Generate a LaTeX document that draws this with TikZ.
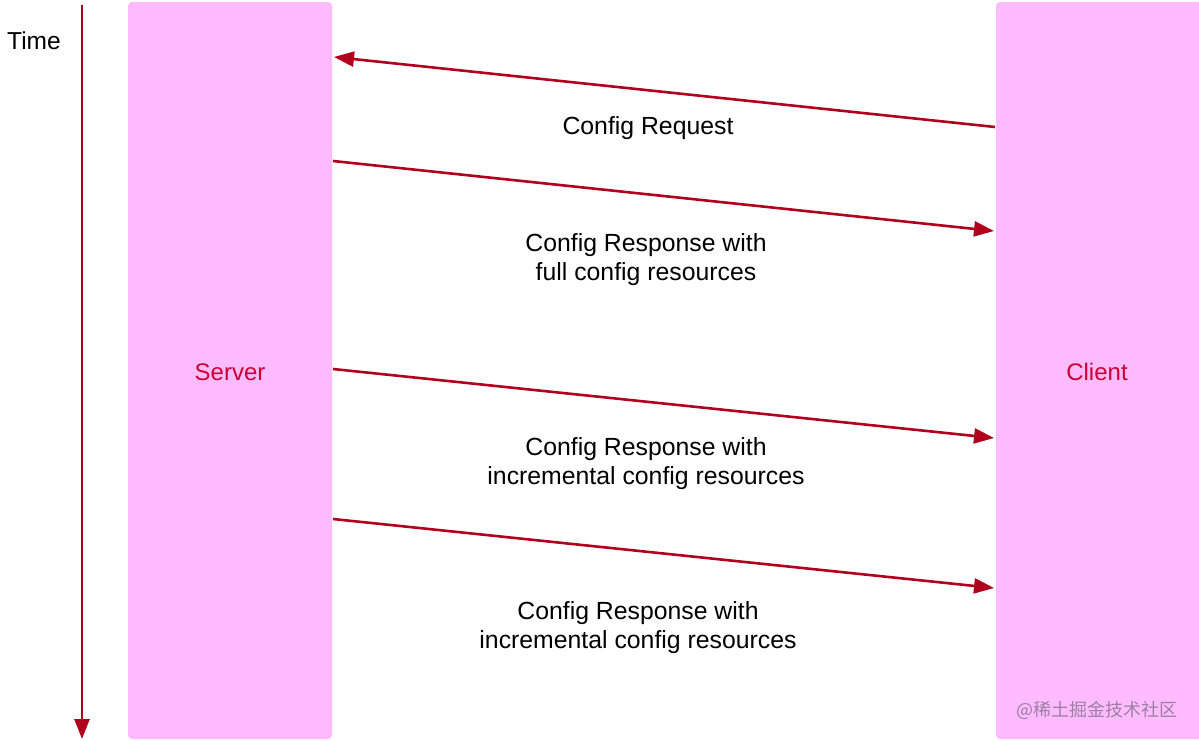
\documentclass[tikz,border=0pt]{standalone}
\usepackage{fontspec}
\setmainfont{Liberation Sans}
\newfontfamily\cjkfont{Noto Sans CJK SC}
\usetikzlibrary{arrows.meta}
\definecolor{lanepink}{HTML}{FFBBFF}
\definecolor{arrowred}{HTML}{B0001E}
\definecolor{labelred}{HTML}{CC0033}
\definecolor{wmgray}{HTML}{9C7FA3}
\tikzset{
  lane/.style={fill=lanepink, draw=none, rounded corners=4pt},
  msg/.style={draw=arrowred, line width=2.6pt, -{Triangle[length=20pt,width=15pt]}},
  msgtext/.style={align=center, font=\fontsize{24.8}{29}\selectfont, text=black},
  lanetext/.style={font=\fontsize{24}{28}\selectfont, text=labelred}
}
\begin{document}
\begin{tikzpicture}[x=1pt,y=-1pt]
\useasboundingbox (0,0) rectangle (1199,741);
\fill[white] (0,0) rectangle (1199,741);
% lanes
\path[lane] (128,2) rectangle (332,739);
\path[lane] (996,2) rectangle (1203,739);
\node[lanetext] (server) at (230,372) {Server};
\node[lanetext] (client) at (1097,372) {Client};
% time axis
\coordinate (t0) at (82,5);
\coordinate (t1) at (82,739);
\draw[msg] (t0) -- (t1);
\node[font=\fontsize{24.5}{28}\selectfont, text=black] (time) at (34,41) {Time};
% message end points
\coordinate (c1) at (995,127);
\coordinate (s1) at (334,57);
\coordinate (s2) at (333,161);
\coordinate (c2) at (994,231);
\coordinate (s3) at (333,369);
\coordinate (c3) at (994,438);
\coordinate (s4) at (333,519);
\coordinate (c4) at (994,588);
\draw[msg] (c1) -- (s1);
\draw[msg] (s2) -- (c2);
\draw[msg] (s3) -- (c3);
\draw[msg] (s4) -- (c4);
% labels
\node[msgtext] (l1) at (648,128) {Config Request};
\node[msgtext] (l2) at (646,260) {Config Response with\\full config resources};
\node[msgtext] (l3) at (646,464) {Config Response with\\incremental config resources};
\node[msgtext] (l4) at (638,628) {Config Response with\\incremental config resources};
% watermark
\node[font=\cjkfont\fontsize{18}{20}\selectfont, text=wmgray] (wm) at (1097,710) {@稀土掘金技术社区};
\end{tikzpicture}
\end{document}
